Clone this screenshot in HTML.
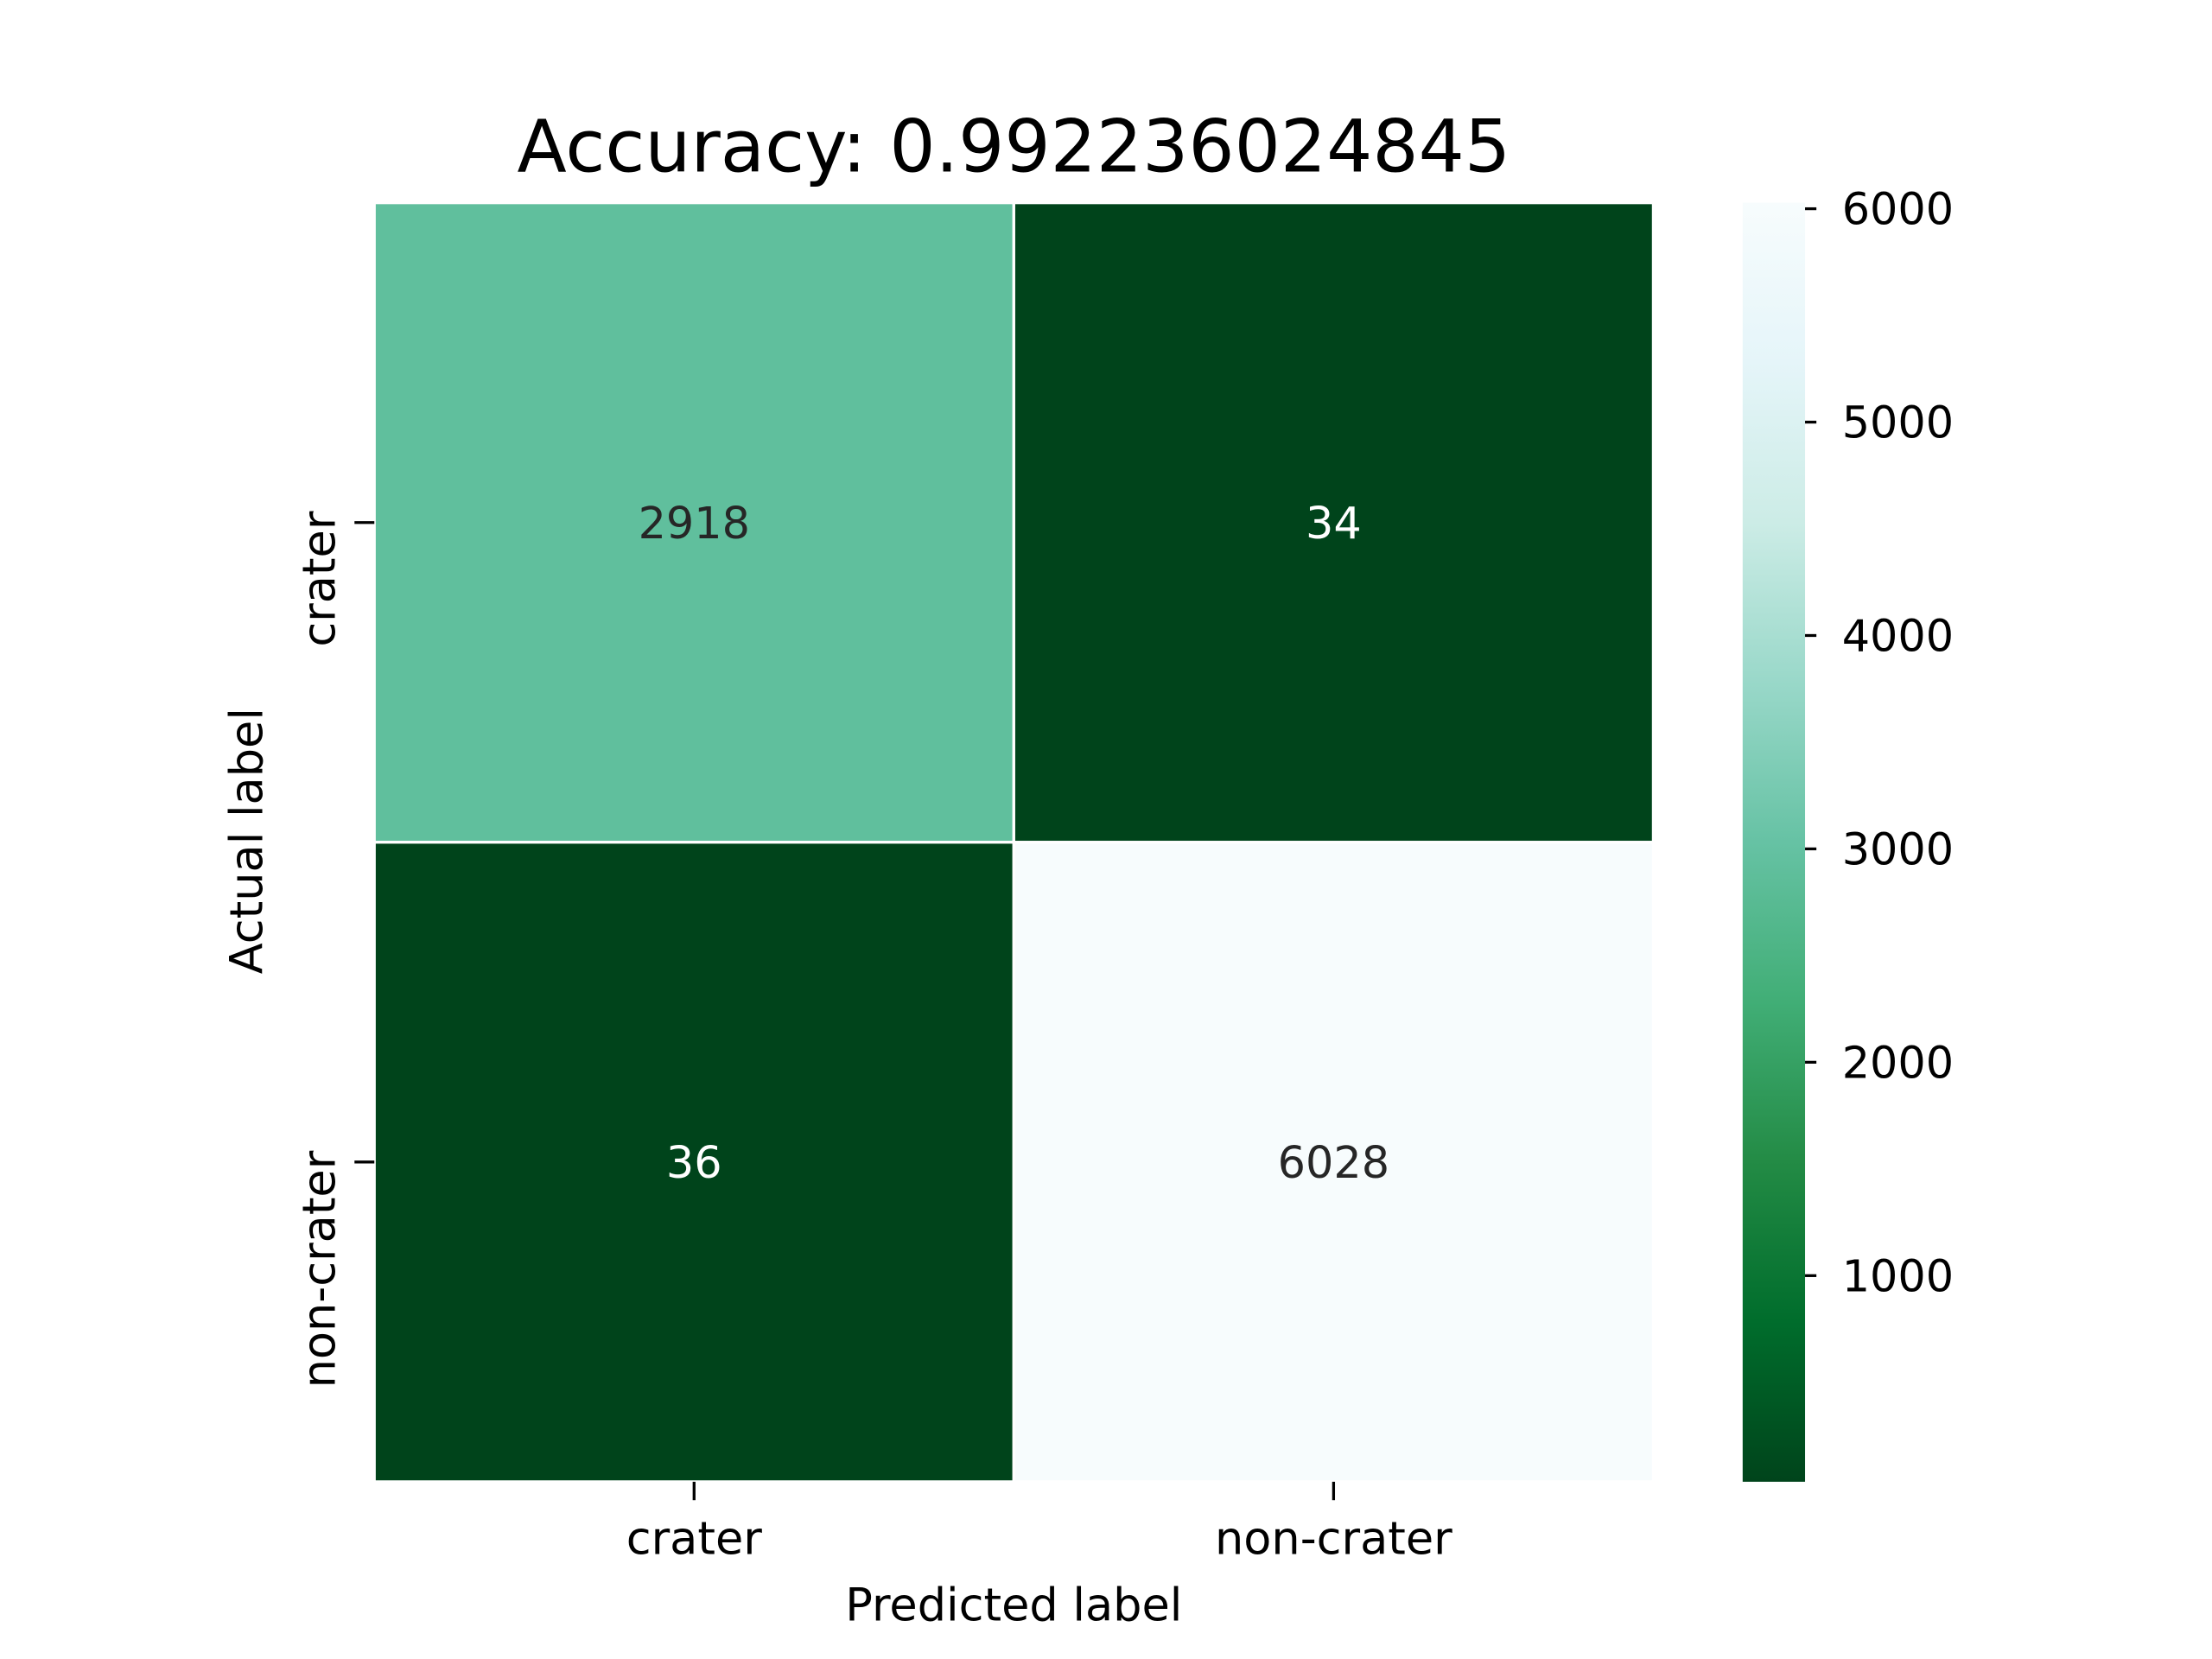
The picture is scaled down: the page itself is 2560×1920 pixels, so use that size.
<!DOCTYPE html>
<html><head><meta charset="utf-8"><style>
html,body{margin:0;padding:0;background:#fff;}
svg{display:block;font-family:"DejaVu Sans","Liberation Sans",sans-serif;}
</style></head><body>
<svg id="chart" width="2560" height="1920" viewBox="0 0 1560 1170" xmlns="http://www.w3.org/2000/svg">
<defs>
<linearGradient id="cbgrad" x1="0" y1="1" x2="0" y2="0">
<stop offset="0" stop-color="#00441b"/><stop offset="0.125" stop-color="#006d2c"/><stop offset="0.25" stop-color="#238b45"/><stop offset="0.375" stop-color="#41ae76"/><stop offset="0.5" stop-color="#66c2a4"/><stop offset="0.625" stop-color="#99d8c9"/><stop offset="0.75" stop-color="#ccece6"/><stop offset="0.875" stop-color="#e5f5f9"/><stop offset="1" stop-color="#f7fcfd"/>
</linearGradient>
</defs>
<text x="715" y="121" font-size="51" text-anchor="middle" fill="#000">Accuracy: 0.992236024845</text>
<g id="cells"></g>
<g id="axes"></g>
<rect x="1229" y="143" width="44" height="902" fill="url(#cbgrad)"/>
<g id="cbticks"></g>
<text x="715" y="1143" font-size="32" text-anchor="middle" fill="#000">Predicted label</text>
<text transform="translate(185,593) rotate(-90)" font-size="32" text-anchor="middle" fill="#000">Actual label</text>
</svg>
<script>
const rowLabels = ["crater", "non-crater"];
const colLabels = ["crater", "non-crater"];
const values = [[2918, 34], [36, 6028]];
const cbTicks = [1000, 2000, 3000, 4000, 5000, 6000];

const NS = "http://www.w3.org/2000/svg";
const L = 264, R = 1166, T = 143, B = 1045;
const flat = values.flat();
const vmin = Math.min(...flat), vmax = Math.max(...flat);
const stops = ["#00441b","#006d2c","#238b45","#41ae76","#66c2a4","#99d8c9","#ccece6","#e5f5f9","#f7fcfd"];
function hex(h){return [1,3,5].map(i=>parseInt(h.substr(i,2),16));}
function cmap(v){
  let t = (v - vmin) / (vmax - vmin); t = Math.max(0, Math.min(1, t));
  const p = t * (stops.length - 1), i = Math.min(Math.floor(p), stops.length - 2), f = p - i;
  const a = hex(stops[i]), b = hex(stops[i+1]);
  const c = a.map((x,k)=>Math.round(x + (b[k]-x)*f));
  return {color:`rgb(${c[0]},${c[1]},${c[2]})`, lum:(0.299*c[0]+0.587*c[1]+0.114*c[2])};
}
const cw = (R - L) / colLabels.length, ch = (B - T) / rowLabels.length;
const xPos = j => L + j * cw;
const yPos = i => T + i * ch;
const cbY = v => B - (v - vmin) / (vmax - vmin) * (B - T);
function mk(tag, attrs, parent){const e=document.createElementNS(NS,tag);for(const k in attrs)e.setAttribute(k,attrs[k]);parent.appendChild(e);return e;}
const cells = document.getElementById("cells");
const axes = document.getElementById("axes");
const cbt = document.getElementById("cbticks");
values.forEach((row,i)=>row.forEach((v,j)=>{
  const c = cmap(v);
  const r = mk("rect",{x:xPos(j),y:yPos(i),width:cw,height:ch,fill:c.color,stroke:"#fff","stroke-width":2},cells);
  
  
  const t = mk("text",{x:xPos(j)+cw/2,y:yPos(i)+ch/2+11,"font-size":31,"text-anchor":"middle",fill:c.lum<128?"#fff":"#262626"},cells);
  t.textContent = v;
  
  
}));
colLabels.forEach((lab,j)=>{
  const x = xPos(j)+cw/2;
  const tk = mk("line",{x1:x,y1:B,x2:x,y2:B+13,stroke:"#000","stroke-width":2},axes);
  
  
  const t = mk("text",{x:x,y:1096,"font-size":32,"text-anchor":"middle",fill:"#000"},axes);
  t.textContent = lab;
  
  
});
rowLabels.forEach((lab,i)=>{
  const y = yPos(i)+ch/2;
  const tk = mk("line",{x1:L-14,y1:y,x2:L,y2:y,stroke:"#000","stroke-width":2},axes);
  
  
  const t = mk("text",{transform:`translate(236,${y-8}) rotate(-90)`,"font-size":32,"text-anchor":"end",fill:"#000"},axes);
  t.textContent = lab;
  
  
});
cbTicks.forEach(v=>{
  const y = cbY(v);
  const tk = mk("line",{x1:1273,y1:y,x2:1281,y2:y,stroke:"#000","stroke-width":2},cbt);
  
  
  const t = mk("text",{x:1299,y:y+11,"font-size":31,fill:"#000"},cbt);
  t.textContent = v;
  
  
});
</script>
</body></html>
